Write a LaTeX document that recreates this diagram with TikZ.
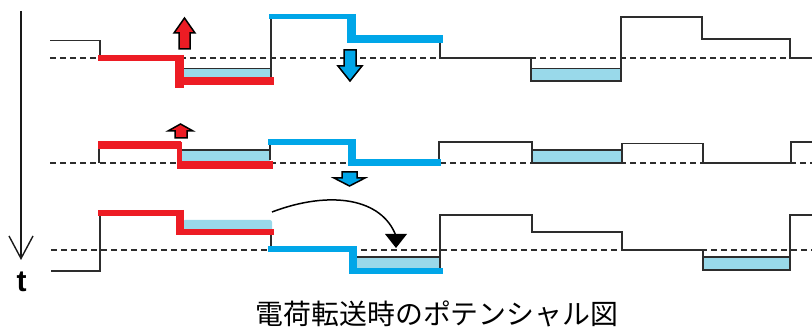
\documentclass[tikz,border=0pt]{standalone}
\usepackage{fontspec}
\setmainfont{Liberation Sans}
\newfontfamily\cjk{Noto Sans CJK JP}
\definecolor{redq}{RGB}{237,28,36}
\definecolor{blueq}{RGB}{0,166,232}
\definecolor{wellq}{RGB}{153,217,234}
\definecolor{lineq}{RGB}{45,45,45}
\tikzset{
  pot/.style={draw=lineq,line width=1.7pt,line join=miter},
  fermi/.style={draw=lineq,line width=1.7pt,dash pattern=on 5.5pt off 4.5pt},
  well/.style={fill=wellq,draw=none},
  welltop/.style={draw=lineq,line width=1.7pt},
  redh/.style={draw=redq,line width=6pt},
  bluh/.style={draw=blueq,line width=6pt},
  blockarrow/.style={draw=black,line width=1.5pt,line join=miter},
}
\begin{document}
\begin{tikzpicture}[x=1pt,y=-1pt]
\useasboundingbox (0,0) rectangle (812,328);
% time axis
\draw[line width=1.4pt,draw=black!90] (21,11) -- (21,258);
\draw[line width=1.4pt,draw=black!90,line join=miter] (9,236) -- (21,258.5) -- (33,236);
\node[font=\bfseries\fontsize{30}{30}\selectfont,inner sep=0pt] (tlabel) at (21.5,282) {t};
% row 1
\draw[fermi] (50,58.2) -- (812,58.2);
\fill[well] (183,69) rectangle (271,81);
\fill[well] (531,69) rectangle (621,81);
\draw[welltop] (183,68.5) -- (271,68.5);
\draw[welltop] (531,68.5) -- (621,68.5);
\draw[pot] (50,40.5) -- (100,40.5) -- (100,58.2);
\draw[pot] (271,16) -- (271,78);
\draw[pot] (440,39) -- (440,58.2) -- (531,58.2) -- (531,81) -- (621,81) -- (621,17) -- (702,17) -- (702,39) -- (790,39) -- (790,58.2) -- (812,58.2);
\draw[redh] (98,58) -- (180,58);
\draw[redq,line width=9pt] (179.5,55) -- (179.5,88);
\draw[redq,line width=7.5pt] (175,81) -- (274,81);
\draw[blueq,line width=5.5pt] (269,16.5) -- (356,16.5);
\draw[blueq,line width=9pt] (351.5,14) -- (351.5,42);
\draw[blueq,line width=7.5pt] (347,39) -- (443,39);
\draw[blockarrow,fill=redq] (184.5,18) -- (195,33) -- (190,33) -- (190,49) -- (179,49) -- (179,33) -- (174,33) -- cycle;
\draw[blockarrow,fill=blueq] (350,81) -- (362,66) -- (356,66) -- (356,50) -- (344,50) -- (344,66) -- (338,66) -- cycle;
% row 2
\draw[fermi] (50,163) -- (812,163);
\fill[well] (181,150) rectangle (270,162);
\fill[well] (532,150) rectangle (622,163);
\draw[welltop] (181,150) -- (270,150);
\draw[welltop] (532,150) -- (622,150);
\draw[pot] (99,145) -- (99,163);
\draw[pot] (270,143) -- (270,160);
\draw[pot] (439,163) -- (439,142) -- (532,142) -- (532,163) -- (622,163) -- (622,143.5) -- (703,143.5) -- (703,163) -- (791,163) -- (791,142) -- (812,142);
\draw[redq,line width=7.5pt] (98,145) -- (181,145);
\draw[redq,line width=5pt] (179.5,142) -- (179.5,168);
\draw[redq,line width=8.5pt] (177,165) -- (273,165);
\draw[blueq,line width=6pt] (268,142.3) -- (356,142.3);
\draw[blueq,line width=8pt] (352,139.3) -- (352,165);
\draw[blueq,line width=6.5pt] (348,162.7) -- (441,162.7);
\draw[blockarrow,fill=redq] (180.5,124) -- (193,131) -- (187,131) -- (187,138) -- (175,138) -- (175,131) -- (168,131) -- cycle;
\draw[blockarrow,fill=blueq] (349.5,186) -- (365,178) -- (357,178) -- (357,172) -- (342,172) -- (342,178) -- (334,178) -- cycle;
% row 3
\draw[fermi] (51,250) -- (812,250);
\fill[well,rounded corners=2pt] (183,220) rectangle (272,232);
\fill[well] (355,257) rectangle (440,270);
\fill[well] (703,257) rectangle (790,270);
\draw[welltop] (355,257) -- (440,257);
\draw[welltop] (703,257) -- (790,257);
\draw[pot] (51,271) -- (100,271) -- (100,213);
\draw[pot] (271,232) -- (271,250);
\draw[pot] (440,268) -- (440,215) -- (532,215) -- (532,232) -- (622,232) -- (622,250) -- (703,250) -- (703,270) -- (790,270) -- (790,215) -- (812,215);
\draw[redh] (98,213) -- (183,213);
\draw[redq,line width=7.5pt] (180,210) -- (180,235);
\draw[redh] (176,232) -- (274,232);
\draw[bluh] (268,249.5) -- (356,249.5);
\draw[blueq,line width=7.5pt] (353,246.5) -- (353,274);
\draw[bluh] (349,271) -- (443,271);
% transfer arrow
\draw[line width=1.5pt,draw=black] (272,212) .. controls (330,190) and (382,198) .. (396,236);
\fill[black] (385,234) -- (407,234) -- (396,248) -- cycle;
% caption
\node[font=\cjk\fontsize{27.9}{28}\selectfont,inner sep=0pt] (caption) at (437,313.8) {電荷転送時のポテンシャル図};
\end{tikzpicture}
\end{document}
